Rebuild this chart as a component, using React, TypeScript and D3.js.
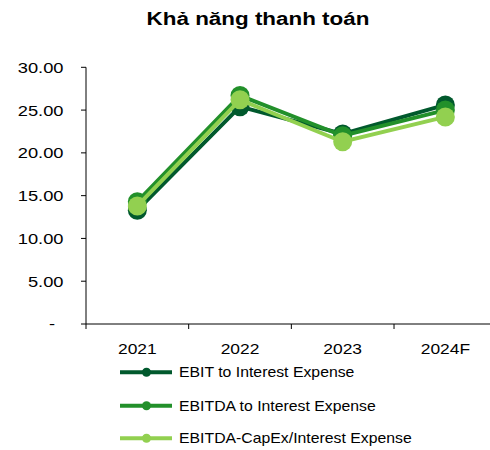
import React from "react";
import * as d3 from "d3";

const categories = ["2021", "2022", "2023", "2024F"];
const seriesNames = ["EBIT to Interest Expense", "EBITDA to Interest Expense", "EBITDA-CapEx/Interest Expense"];
const ebit = [13.3, 25.4, 22.2, 25.6];
const ebitda = [14.3, 26.7, 22.0, 25.0];
const ebitdaCapex = [13.8, 26.2, 21.3, 24.2];
const colors = ["#01592d", "#22902a", "#92d050"];
const yTicks = [0, 5, 10, 15, 20, 25, 30];

function T({ x, y, sx, anchor, size, weight, dy, children }: any) {
  return (
    <text transform={`translate(${x},${y}) scale(${sx},1)`} textAnchor={anchor || "start"} fontSize={size}
      fontWeight={weight || "normal"} dy={dy || 0} fill="#000">{children}</text>
  );
}

export default function App() {
  const W = 490, H = 450;
  const x0 = 86, xEnd = 496.7, yTop = 67.3, yBot = 324;
  const x = d3.scaleBand().domain(categories).range([x0, xEnd]);
  const y = d3.scaleLinear().domain([0, 30]).range([yBot, yTop]);
  const data = [ebit, ebitda, ebitdaCapex];
  const cx = (i: number) => (x(categories[i]) as number) + x.bandwidth() / 2;
  const line = d3.line<number>().x((_, i) => cx(i)).y(d => y(d));
  const font = "Liberation Sans, Arial, sans-serif";
  const fmt = (v: number) => (v === 0 ? "-" : v.toFixed(2));
  return (
    <svg width={W} height={H} style={{ position: "absolute", left: 0, top: 0 }} fontFamily={font}>
      <rect width={W} height={H} fill="#fff" />
      <T x={258} y={25} sx={1.18} anchor="middle" size={19} weight="bold">Khả năng thanh toán</T>
      <line x1={x0} x2={x0} y1={yTop} y2={yBot} stroke="#000" strokeWidth={1} />
      {yTicks.map(t => (
        <g key={t}>
          <line x1={x0 - 5} x2={x0} y1={y(t)} y2={y(t)} stroke="#000" />
          <T x={t === 0 ? 55 : 63.5} y={y(t)} sx={1.18} anchor="end" size={15.5} dy="0.35em">{fmt(t)}</T>
        </g>
      ))}
      <line x1={x0} x2={xEnd} y1={yBot} y2={yBot} stroke="#000" />
      {categories.map((c, i) => (
        <g key={c}>
          <line x1={(x(c) as number)} x2={(x(c) as number)} y1={yBot} y2={yBot + 5} stroke="#000" />
          <T x={cx(i)} y={354} sx={1.16} anchor="middle" size={15}>{c}</T>
        </g>
      ))}
      {data.map((s, k) => (
        <g key={k}>
          <path d={line(s) || ""} fill="none" stroke={colors[k]} strokeWidth={4} />
          {s.map((v, i) => (
            <circle key={i} cx={cx(i)} cy={y(v)} r={9.5} fill={colors[k]} />
          ))}
        </g>
      ))}
      {seriesNames.map((n, k) => {
        const ly = [372.3, 405.7, 438.3][k];
        return (
          <g key={n}>
            <line x1={120} x2={172} y1={ly} y2={ly} stroke={colors[k]} strokeWidth={4} />
            <circle cx={146.5} cy={ly} r={4.5} fill={colors[k]} />
            <T x={179} y={ly} sx={1.13} size={14} dy="0.35em">{n}</T>
          </g>
        );
      })}
    </svg>
  );
}
